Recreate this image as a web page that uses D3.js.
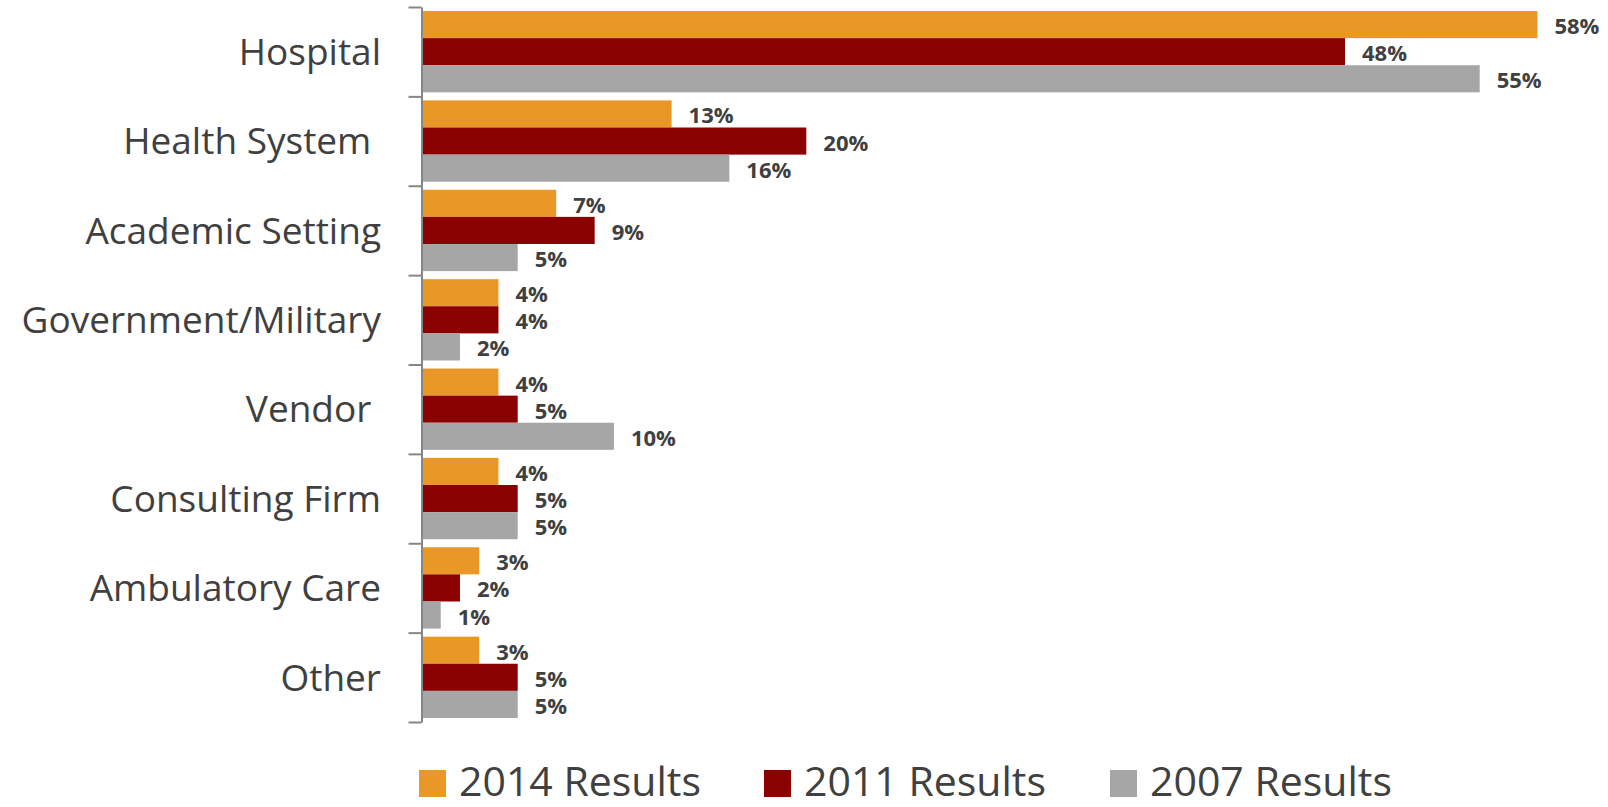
<!DOCTYPE html>
<html>
<head>
<meta charset="utf-8">
<script src="https://cdn.jsdelivr.net/npm/d3@7"></script>
<style>
  html, body { margin: 0; padding: 0; background: #ffffff; }
  svg { display: block; }
  text { white-space: pre; }
</style>
</head>
<body>
<svg id="chart" width="1608" height="807"></svg>
<script>
// Work setting of respondents, by survey year (percent)
const categories = ["Hospital", "Health System ", "Academic Setting", "Government/Military",
                    "Vendor ", "Consulting Firm", "Ambulatory Care", "Other"];
const seriesNames = ["2014 Results", "2011 Results", "2007 Results"];
const values2014 = [58, 13, 7, 4, 4, 4, 3, 3];
const values2011 = [48, 20, 9, 4, 5, 5, 2, 5];
const values2007 = [55, 16, 5, 2, 10, 5, 1, 5];
const seriesColors = ["#E99827", "#8B0000", "#A6A6A6"];

const seriesValues = [values2014, values2011, values2007];
const rows = categories.map((c, i) => ({
  category: c,
  values: seriesNames.map((s, k) => ({ series: s, value: seriesValues[k][i], color: seriesColors[k] }))
}));

const svg = d3.select("#chart");
const axisX = 421.5, plotTop = 7, plotBottom = 722;

const x = d3.scaleLinear().domain([0, 60]).range([axisX, axisX + 60 * 19.24]);
const y = d3.scaleBand().domain(categories).range([plotTop, plotBottom])
  .paddingInner(0.09).paddingOuter(0.045);
const ySub = d3.scaleBand().domain(seriesNames).range([0, y.bandwidth()]);

// bars
const groups = svg.append("g").selectAll("g").data(rows).join("g")
  .attr("transform", d => `translate(0,${y(d.category)})`);

groups.selectAll("rect").data(d => d.values).join("rect")
  .attr("x", x(0))
  .attr("y", d => ySub(d.series))
  .attr("width", d => x(d.value) - x(0))
  .attr("height", ySub.bandwidth())
  .attr("fill", d => d.color);

// value labels
groups.selectAll("text.val").data(d => d.values).join("text")
  .attr("class", "val")
  .attr("x", d => x(d.value) + 17)
  .attr("y", d => ySub(d.series) + ySub.bandwidth() / 2 + 9.5)
  .attr("font-family", "'Open Sans', sans-serif")
  .attr("font-weight", "bold")
  .attr("font-size", 22)
  .attr("fill", "#404040")
  .text(d => d.value + "%");

// category axis with tick marks between categories
const boundary = d3.scaleLinear().domain([0, categories.length]).range([plotTop, plotBottom]);
const axis = svg.append("g")
  .attr("transform", `translate(${axisX},0)`)
  .call(d3.axisLeft(boundary).tickValues(d3.range(categories.length + 1))
    .tickSize(13).tickSizeOuter(0).tickFormat(""));
axis.selectAll("path, line").attr("stroke", "#868686").attr("stroke-width", 2);

// category labels
svg.append("g").selectAll("text").data(categories).join("text")
  .attr("x", 381)
  .attr("y", d => y(d) + y.bandwidth() / 2 + 13.2)
  .attr("text-anchor", "end")
  .attr("font-family", "'Open Sans', sans-serif")
  .attr("font-size", 37)
  .attr("fill", "#404040")
  .text(d => d);

// legend
const legendX = [419, 764, 1110];
const legend = svg.append("g").selectAll("g").data(seriesNames).join("g")
  .attr("transform", (d, i) => `translate(${legendX[i]},770)`);
legend.append("rect")
  .attr("width", 27).attr("height", 27)
  .attr("fill", (d, i) => seriesColors[i]);
legend.append("text")
  .attr("x", 40).attr("y", 26)
  .attr("font-family", "'Open Sans', sans-serif")
  .attr("font-size", 41)
  .attr("fill", "#404040")
  .text(d => d);
</script>
</body>
</html>
